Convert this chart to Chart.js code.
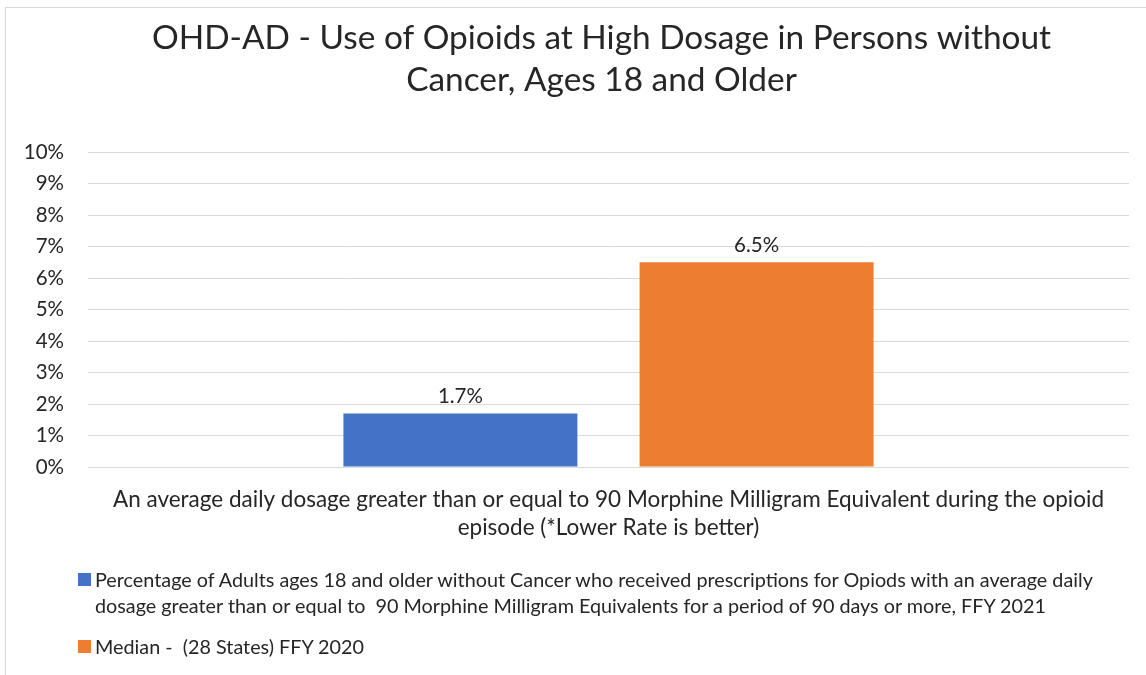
<!DOCTYPE html>
<html><head><meta charset="utf-8">
<script src="https://cdn.jsdelivr.net/npm/chart.js@4"></script>
<style>
html,body{margin:0;padding:0;background:#fff;}
#wrap{position:relative;width:1146px;height:675px;overflow:hidden;background:#fff;}
#frame{position:absolute;left:5px;top:7px;width:1200px;height:700px;border:1px solid #d9d9d9;box-sizing:border-box;}
canvas{position:absolute;left:0;top:0;}
#legend{position:absolute;left:78px;top:566px;width:1065px;font-family:Lato, sans-serif;font-size:19.8px;color:#262626;}
.item{display:flex;align-items:flex-start;margin-bottom:15px;line-height:26px;}
.sw{width:13px;height:13px;margin-top:7px;margin-right:4px;flex:none;}
.txt{white-space:pre;}
</style></head>
<body>
<div id="wrap"><div id="frame"></div><canvas id="c" width="1146" height="675"></canvas><div id="legend"></div></div>
<script>
const titleLines = ["OHD-AD - Use of Opioids at High Dosage in Persons without", "Cancer, Ages 18 and Older"];
const categories = [["An average daily dosage greater than or equal to 90 Morphine Milligram Equivalent during the opioid", "episode (*Lower Rate is better)"]];
const adultsLabelLines = ["Percentage of Adults ages 18 and older without Cancer who received prescriptions for Opiods with an average daily", "dosage greater than or equal to  90 Morphine Milligram Equivalents for a period of 90 days or more, FFY 2021"];
const medianLabelLines = ["Median -  (28 States) FFY 2020"];
const adultsValues = [1.7];
const medianValues = [6.5];
const yTickValues = [0, 1, 2, 3, 4, 5, 6, 7, 8, 9, 10];

const FONT = 'Lato';
const TEXT = '#262626';

// value labels above bars
const valueLabels = {
  id: 'valueLabels',
  afterDatasetsDraw(chart) {
    const ctx = chart.ctx;
    ctx.save();
    ctx.font = '20.5px ' + FONT;
    ctx.fillStyle = TEXT;
    ctx.textAlign = 'center';
    ctx.textBaseline = 'alphabetic';
    chart.data.datasets.forEach((ds, i) => {
      chart.getDatasetMeta(i).data.forEach((bar, j) => {
        ctx.fillText(ds.data[j].toFixed(1) + '%', bar.x, bar.y - 10);
      });
    });
    ctx.restore();
  }
};

// two-line title centred over the plot area
const chartTitle = {
  id: 'chartTitle',
  afterDraw(chart) {
    const ctx = chart.ctx;
    const a = chart.chartArea;
    const cx = (a.left + a.right) / 2 - 7;
    ctx.save();
    ctx.font = '33.4px ' + FONT;
    ctx.fillStyle = TEXT;
    ctx.textAlign = 'center';
    ctx.textBaseline = 'middle';
    titleLines.forEach((t, i) => ctx.fillText(t, cx, a.top - 114 + i * 42));
    ctx.restore();
  }
};

const chart = new Chart(document.getElementById('c'), {
  type: 'bar',
  data: {
    labels: categories,
    datasets: [
      { label: adultsLabelLines.join(' '), lines: adultsLabelLines, data: adultsValues, backgroundColor: '#4472C4' },
      { label: medianLabelLines.join(' '), lines: medianLabelLines, data: medianValues, backgroundColor: '#ED7D31' }
    ]
  },
  options: {
    responsive: false,
    animation: false,
    devicePixelRatio: 1,
    layout: { padding: { left: 0, right: 17, top: 152, bottom: 122 } },
    datasets: { bar: { barPercentage: 0.79, categoryPercentage: 0.569 } },
    plugins: {
      legend: { display: false },
      tooltip: { enabled: false },
      title: { display: false }
    },
    scales: {
      x: {
        grid: { display: false },
        border: { display: false },
        ticks: { color: TEXT, font: { family: FONT, size: 22.5, lineHeight: 1.244 }, padding: 11, maxRotation: 0, autoSkip: false }
      },
      y: {
        min: 0, max: 10,
        afterFit(s) { s.width = 88; },
        afterBuildTicks(s) { s.ticks = yTickValues.map(v => ({ value: v })); },
        grid: { color: '#d9d9d9', lineWidth: 1, drawTicks: false },
        border: { display: false },
        ticks: { color: TEXT, font: { family: FONT, size: 20.5 }, padding: 24, callback: v => v + '%' }
      }
    }
  },
  plugins: [valueLabels, chartTitle]
});

const legend = document.getElementById('legend');
chart.data.datasets.forEach(ds => {
  const item = document.createElement('div');
  item.className = 'item';
  const sw = document.createElement('span');
  sw.className = 'sw';
  sw.style.background = ds.backgroundColor;
  const txt = document.createElement('span');
  txt.className = 'txt';
  txt.textContent = ds.lines.join('\n');
  item.appendChild(sw); item.appendChild(txt);
  legend.appendChild(item);
});
</script>
</body></html>
